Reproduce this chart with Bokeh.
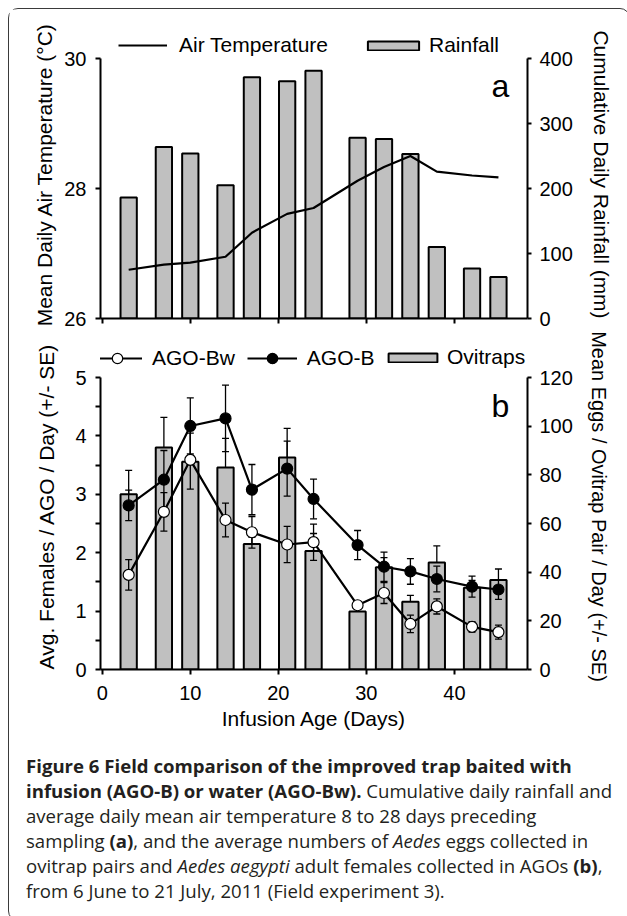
from bokeh.plotting import figure
from bokeh.models import (Range1d, LinearAxis, FixedTicker, Legend, LegendItem,
                          Label, Div, ColumnDataSource)
from bokeh.layouts import column
from bokeh.embed import file_html
from bokeh.resources import INLINE

# ---------------- data ----------------
days = [3, 7, 10, 14, 17, 21, 24, 29, 32, 35, 38, 42, 45]
rainfall = [186, 264, 254, 205, 371, 365, 381, 278, 276, 253, 110, 77, 64]
air_temp = [26.75, 26.83, 26.86, 26.95, 27.32, 27.61, 27.70, 28.12, 28.33, 28.50, 28.26, 28.20, 28.17]

ovitraps = [72.0, 91.2, 85.4, 83.0, 51.6, 87.1, 48.7, 23.8, 42.0, 27.8, 44.0, 33.6, 36.8]
ovitraps_se = [9.8, 12.4, 11.7, 12.0, 2.7, 12.0, 7.2, 1.0, 4.0, 2.7, 6.8, 3.0, 4.5]
ago_b = [2.81, 3.25, 4.17, 4.30, 3.08, 3.44, 2.92, 2.13, 1.76, 1.68, 1.55, 1.42, 1.37]
ago_b_se = [0.26, 0.50, 0.48, 0.57, 0.43, 0.47, 0.34, 0.25, 0.25, 0.22, 0.22, 0.18, 0.17]
ago_bw = [1.62, 2.70, 3.59, 2.56, 2.35, 2.14, 2.18, 1.10, 1.31, 0.78, 1.08, 0.73, 0.64]
ago_bw_se = [0.26, 0.33, 0.50, 0.29, 0.27, 0.31, 0.31, 0.05, 0.18, 0.15, 0.13, 0.09, 0.12]

temp_ticks = [26, 28, 30]
rain_ticks = [0, 100, 200, 300, 400]
day_ticks = [0, 10, 20, 30, 40]
female_ticks = [0, 1, 2, 3, 4, 5]
female_minor = [0.5, 1.5, 2.5, 3.5, 4.5]
egg_ticks = [0, 20, 40, 60, 80, 100, 120]

FONT = "Liberation Sans"
BAR = "#c0c0c0"
W = 610

src = ColumnDataSource(dict(
    day=days, rain=rainfall, temp=air_temp,
    ovi=ovitraps, ovi_hi=[v + e for v, e in zip(ovitraps, ovitraps_se)],
    b=ago_b, b_lo=[v - e for v, e in zip(ago_b, ago_b_se)], b_hi=[v + e for v, e in zip(ago_b, ago_b_se)],
    bw=ago_bw, bw_lo=[v - e for v, e in zip(ago_bw, ago_bw_se)], bw_hi=[v + e for v, e in zip(ago_bw, ago_bw_se)],
))


def style_axis(ax, tick_out=5, standoff=9, title_standoff=5):
    ax.axis_line_color = "black"
    ax.axis_line_width = 2
    ax.major_tick_line_color = "black"
    ax.major_tick_line_width = 2
    ax.major_tick_in = 0
    ax.major_tick_out = tick_out
    ax.minor_tick_line_color = None
    ax.major_label_text_font = FONT
    ax.major_label_text_font_size = "20px"
    ax.major_label_text_color = "black"
    ax.major_label_standoff = standoff
    ax.axis_label_text_font = FONT
    ax.axis_label_text_font_size = "21px"
    ax.axis_label_text_font_style = "normal"
    ax.axis_label_text_color = "black"
    ax.axis_label_standoff = title_standoff


def legend(items, loc, gw, gh, standoff, spacing=12):
    return Legend(items=items, location=loc, orientation="horizontal",
                  glyph_width=gw, glyph_height=gh, label_standoff=standoff,
                  spacing=spacing, padding=0, margin=0,
                  background_fill_alpha=0, border_line_color=None,
                  label_text_font=FONT, label_text_font_size="21px",
                  label_text_color="black")


# ---------------- panel a ----------------
# frame extends above the 30 °C tick so the legend sits inside it; axes are bounded
pa = figure(width=W, height=321, x_range=Range1d(-0.2, 48.3),
            y_range=Range1d(26, 30 + 28 / 65),
            output_backend="svg", toolbar_location=None,
            min_border_left=91, min_border_right=92, min_border_top=21, min_border_bottom=12)
pa.extra_y_ranges = {"rain": Range1d(0, 400 + 28 / 0.65)}
pa.grid.visible = False
pa.outline_line_color = None

bars_a = pa.vbar(x="day", width=1.85, top="rain", bottom=0, source=src, y_range_name="rain",
                 fill_color=BAR, line_color="black", line_width=2)
temp_line = pa.line(x="day", y="temp", source=src, line_color="black", line_width=2.2)

pa.yaxis.ticker = FixedTicker(ticks=temp_ticks)
pa.yaxis.bounds = (26, 30)
pa.yaxis.axis_label = "Mean Daily Air Temperature (°C)"
style_axis(pa.yaxis[0], 5, 9, 5)
pa.xaxis.ticker = FixedTicker(ticks=day_ticks)
style_axis(pa.xaxis[0], 5, 0, 0)
pa.xaxis.major_label_text_font_size = "4px"
pa.xaxis.major_label_text_color = None

ra = LinearAxis(y_range_name="rain", ticker=FixedTicker(ticks=rain_ticks), bounds=(0, 400),
                axis_label="Cumulative Daily Rainfall (mm)")
style_axis(ra, 4, 8, 14)
pa.add_layout(ra, "right")

pa.add_layout(legend([LegendItem(label="Air Temperature", renderers=[temp_line])],
                     (18, 261), 49, 20, 12))
pa.add_layout(legend([LegendItem(label="Rainfall", renderers=[bars_a])],
                     (261, 261), 64, 11, 4))
pa.add_layout(Label(x=400, y=233, x_units="screen", y_units="screen", text="a",
                    text_font=FONT, text_font_size="32px", text_align="center",
                    text_baseline="middle", text_color="black"))

# ---------------- panel b ----------------
pb = figure(width=W, height=404, x_range=Range1d(-0.2, 48.3),
            y_range=Range1d(0, 5 + 34 / 58.4),
            output_backend="svg", toolbar_location=None,
            min_border_left=91, min_border_right=92, min_border_top=13, min_border_bottom=65)
pb.extra_y_ranges = {"eggs": Range1d(0, 120 + 34 / (292 / 120))}
pb.grid.visible = False
pb.outline_line_color = None

bars_b = pb.vbar(x="day", width=1.85, top="ovi", bottom=0, source=src, y_range_name="eggs",
                 fill_color=BAR, line_color="black", line_width=2)
pb.segment(x0="day", y0="ovi", x1="day", y1="ovi_hi", source=src, y_range_name="eggs",
           line_color="black", line_width=1.3)
pb.scatter(x="day", y="ovi_hi", source=src, y_range_name="eggs", marker="dash", size=7,
           line_color="black", line_width=1.3)

line_b = pb.line(x="day", y="b", source=src, line_color="black", line_width=2.2)
line_bw = pb.line(x="day", y="bw", source=src, line_color="black", line_width=2.2)
for lo, hi in (("b_lo", "b_hi"), ("bw_lo", "bw_hi")):
    pb.segment(x0="day", y0=lo, x1="day", y1=hi, source=src, line_color="black", line_width=1.3)
    pb.scatter(x="day", y=lo, source=src, marker="dash", size=7, line_color="black", line_width=1.3)
    pb.scatter(x="day", y=hi, source=src, marker="dash", size=7, line_color="black", line_width=1.3)

mk_b = pb.scatter(x="day", y="b", source=src, marker="circle", size=11,
                  fill_color="black", line_color="black", line_width=1.2)
mk_bw = pb.scatter(x="day", y="bw", source=src, marker="circle", size=11,
                   fill_color="white", line_color="black", line_width=1.2)

pb.yaxis.ticker = FixedTicker(ticks=female_ticks, minor_ticks=female_minor)
pb.yaxis.bounds = (0, 5)
pb.yaxis.axis_label = "Avg. Females / AGO / Day (+/- SE)"
style_axis(pb.yaxis[0], 5, 9, 14)
pb.yaxis.minor_tick_line_color = "black"
pb.yaxis.minor_tick_line_width = 2
pb.yaxis.minor_tick_in = 0
pb.yaxis.minor_tick_out = 5

pb.xaxis.ticker = FixedTicker(ticks=day_ticks)
pb.xaxis.axis_label = "Infusion Age (Days)"
style_axis(pb.xaxis[0], 5, 11, 4)

rb = LinearAxis(y_range_name="eggs", ticker=FixedTicker(ticks=egg_ticks), bounds=(0, 120),
                axis_label="Mean Eggs / Ovitrap Pair / Day (+/- SE)")
style_axis(rb, 4, 8, 12)
rb.axis_label_text_font_size = "20px"
pb.add_layout(rb, "right")

pb.add_layout(legend([LegendItem(label="AGO-Bw", renderers=[line_bw, mk_bw]),
                      LegendItem(label="AGO-B", renderers=[line_b, mk_b])],
                     (-8, 298), 50, 26, 10, 12))
pb.add_layout(legend([LegendItem(label="Ovitraps", renderers=[bars_b])],
                     (282, 300), 61, 11, 4))
pb.add_layout(Label(x=400, y=264, x_units="screen", y_units="screen", text="b",
                    text_font=FONT, text_font_size="32px", text_align="center",
                    text_baseline="middle", text_color="black"))

# ---------------- caption ----------------
caption_html = (
    '<div style="font-family:\'Open Sans\'; font-size:18.6px; line-height:25px; color:#231f20; '
    'white-space:nowrap; padding:14px 0 0 12px;">'
    '<b>Figure 6 Field comparison of the improved trap baited with<br>'
    'infusion (AGO-B) or water (AGO-Bw).</b> Cumulative daily rainfall and<br>'
    'average daily mean air temperature 8 to 28 days preceding<br>'
    'sampling <b>(a)</b>, and the average numbers of <i>Aedes</i> eggs collected in<br>'
    'ovitrap pairs and <i>Aedes aegypti</i> adult females collected in AGOs <b>(b)</b>,<br>'
    'from 6 June to 21 July, 2011 (Field experiment 3).</div>'
)
cap = Div(text=caption_html, width=W, height=176)

layout = column(pa, pb, cap, spacing=0,
                styles={"border": "1.5px solid #3a3a3a", "border-radius": "10px",
                        "margin-left": "8px", "margin-top": "8px"})

open("out.html", "w").write(file_html(layout, INLINE))
